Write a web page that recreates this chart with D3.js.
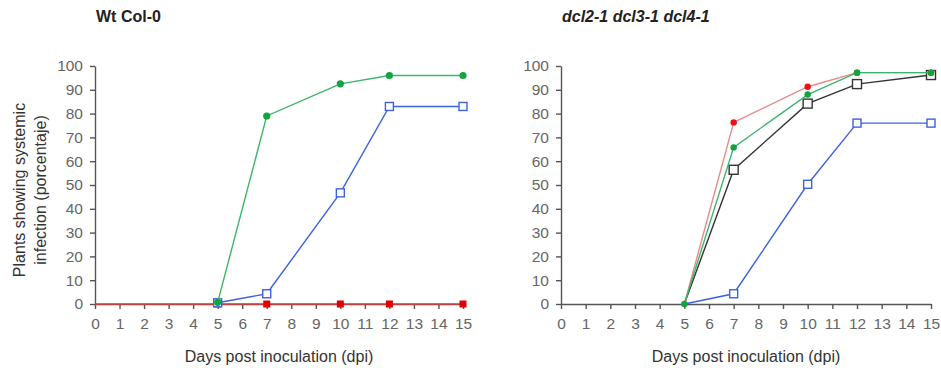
<!DOCTYPE html>
<html>
<head>
<meta charset="utf-8">
<script src="https://cdn.jsdelivr.net/npm/d3@7"></script>
<style>
  body { margin: 0; background: #fff; }
  svg { font-family: "Liberation Sans", Arial, sans-serif; }
  .axis path, .axis line { stroke: #555; stroke-width: 1.4; }
  .axis text { fill: #666; font-size: 15.5px; }
</style>
</head>
<body>
<svg id="chart" width="941" height="368"></svg>
<script>
// days post inoculation where data were scored
const days = [5, 7, 10, 12, 15];
const xTicks = d3.range(0, 16);
const yTicks = d3.range(0, 101, 10);

// Wt Col-0
const wtRedDays = [0, 5, 7, 10, 12, 15];
const wtRed = [0, 0, 0, 0, 0, 0];
const wtBlue = [0.5, 4.3, 46.7, 83, 83];
const wtGreen = [0.7, 79, 92.5, 96, 96];

// dcl2-1 dcl3-1 dcl4-1
const dclBlue = [0, 4.3, 50.3, 76, 76];
const dclBlack = [0, 56.4, 84.2, 92.4, 96.2];
const dclRed = [0, 76.3, 91.3, 97.2, 97.2];
const dclGreen = [0, 65.8, 88, 97.2, 97.2];

const svg = d3.select('#chart');
const y = d3.scaleLinear().domain([0, 100]).range([304, 66]);

function drawPanel(title, italic, x0, x1, series){
    const x = d3.scaleLinear().domain([0, 15]).range([x0, x1]);

    svg.append('text')
        .text(title)
        .attr('x', x0 + 1)
        .attr('y', 22)
        .style('font-size', '16px')
        .style('font-weight', 'bold')
        .style('font-style', italic ? 'italic' : 'normal')
        .style('fill', '#222');

    svg.append('g')
        .attr('class', 'axis')
        .attr('transform', `translate(${x0},0)`)
        .call(d3.axisLeft(y).tickValues(yTicks).tickSize(5).tickPadding(7).tickSizeOuter(0));

    svg.append('g')
        .attr('class', 'axis')
        .attr('transform', `translate(0,${y(0)})`)
        .call(d3.axisBottom(x).tickValues(xTicks).tickFormat(d3.format('d')).tickSize(5).tickPadding(9).tickSizeOuter(0));

    svg.append('text')
        .text('Days post inoculation (dpi)')
        .attr('x', (x0 + x1) / 2)
        .attr('y', 362)
        .attr('text-anchor', 'middle')
        .style('font-size', '16px')
        .style('fill', '#333');

    const line = d3.line().x(d => x(d[0])).y(d => y(d[1]));

    series.forEach(function(s){
        const pts = s.days.map((d, i) => [d, s.values[i]]);
        svg.append('path')
            .datum(pts)
            .attr('d', line)
            .attr('fill', 'none')
            .attr('stroke', s.line)
            .attr('stroke-width', 1.4);

        // no marker where the curve only starts
        const marks = pts.filter(p => p[0] > s.markAfter);
        if(s.shape === 'circle'){
            svg.selectAll(null).data(marks).enter().append('circle')
                .attr('cx', d => x(d[0]))
                .attr('cy', d => y(d[1]))
                .attr('r', s.size)
                .attr('fill', s.mark);
        } else {
            svg.selectAll(null).data(marks).enter().append('rect')
                .attr('x', d => x(d[0]) - s.size / 2)
                .attr('y', d => y(d[1]) - s.size / 2)
                .attr('width', s.size)
                .attr('height', s.size)
                .attr('fill', s.filled ? s.mark : '#fff')
                .attr('stroke', s.mark)
                .attr('stroke-width', s.filled ? 0 : 1.4);
        }
    });
}

drawPanel('Wt Col-0', false, 95, 463, [
    {days: wtRedDays, values: wtRed, line: '#e23b3b', mark: '#e00000', shape: 'square', filled: true, size: 7, markAfter: 0},
    {days: days, values: wtBlue, line: '#3d62e0', mark: '#3d62e0', shape: 'square', filled: false, size: 8, markAfter: 0},
    {days: days, values: wtGreen, line: '#3bb56a', mark: '#12a43f', shape: 'circle', size: 3.6, markAfter: 0}
]);

drawPanel('dcl2-1 dcl3-1 dcl4-1', true, 561, 931, [
    {days: days, values: dclBlue, line: '#3d62e0', mark: '#3d62e0', shape: 'square', filled: false, size: 8, markAfter: 5},
    {days: days, values: dclBlack, line: '#333', mark: '#333', shape: 'square', filled: false, size: 9, markAfter: 5},
    {days: days, values: dclRed, line: '#e88a8a', mark: '#f01010', shape: 'circle', size: 3.2, markAfter: 5},
    {days: days, values: dclGreen, line: '#3bb56a', mark: '#12a43f', shape: 'circle', size: 3.2, markAfter: 0}
]);

// y axis title, two lines rotated
const yLabel = svg.append('text')
    .attr('transform', 'translate(0,190) rotate(-90)')
    .attr('text-anchor', 'middle')
    .style('font-size', '16px')
    .style('fill', '#333');
yLabel.append('tspan').attr('x', 0).attr('y', 25).text('Plants showing systemic');
yLabel.append('tspan').attr('x', 0).attr('y', 46).text('infection (porcentaje)');
</script>
</body>
</html>
